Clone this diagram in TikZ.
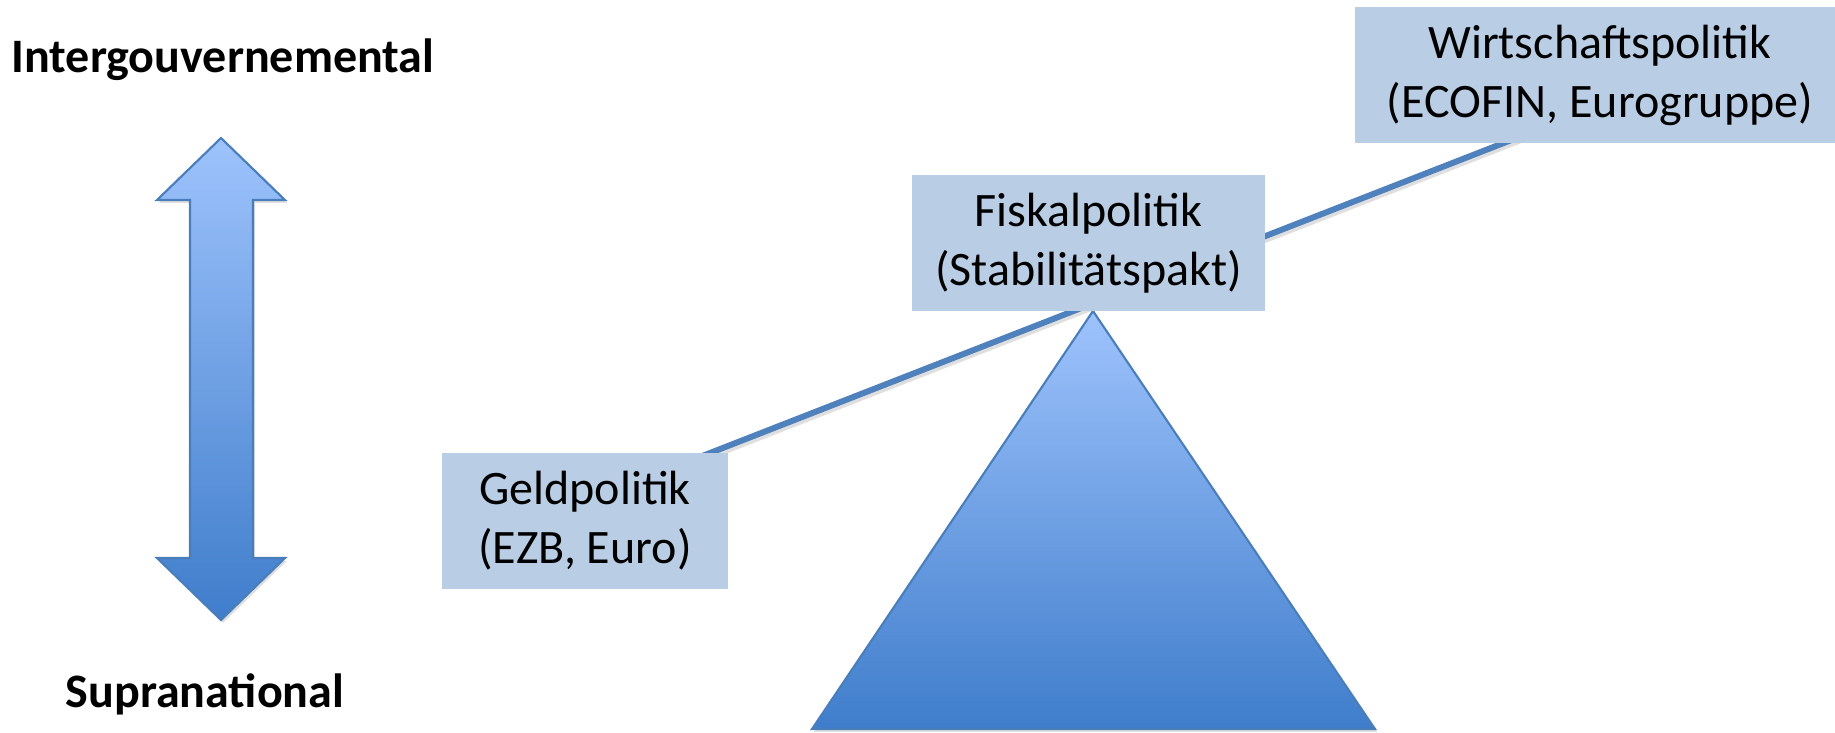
\documentclass[tikz,border=0pt]{standalone}
\usepackage{fontspec}
\setmainfont{Carlito}
\usepackage{tikz}
\usetikzlibrary{calc,shadows}
\definecolor{hellblau}{HTML}{9EC3FC}
\definecolor{dunkelblau}{HTML}{3F7DCB}
\definecolor{randblau}{HTML}{4A7EBB}
\definecolor{balkenblau}{HTML}{4F81BD}
\definecolor{kastenblau}{HTML}{B9CDE5}

\begin{document}
\begin{tikzpicture}[x=0.01cm,y=-0.01cm,
    schatten/.style={drop shadow={opacity=0.25,shadow xshift=0.6pt,shadow yshift=-0.8pt}},
    form/.style={draw=randblau,line width=0.6pt,line join=miter,top color=hellblau,bottom color=dunkelblau,schatten},
    balken/.style={draw=balkenblau,line width=1.7pt},
    kasten/.style={fill=kastenblau,inner sep=0pt,minimum height=1.36cm,align=center,font=\fontsize{13.66}{16.8}\selectfont},
    titel/.style={anchor=base,font=\fontsize{13.66}{16.8}\selectfont\bfseries}]
    \useasboundingbox (0,0) rectangle (1835,732);
    \draw[form] (221,138) -- (285,200) -- (253,200) -- (253,558) -- (285,558) -- (221,620) -- (157,558) -- (190,558) -- (190,200) -- (157,200) -- cycle;
    \draw[form] (1093,311) -- (812,729) -- (1375,729) -- cycle;
    \coordinate (beamL) at (660,472.5);
    \coordinate (beamR) at (1560,121);
    \draw[balken,draw=black!25,opacity=0.5] ($(beamL)+(2,3)$) -- ($(beamR)+(2,3)$);
    \draw[balken] (beamL) -- (beamR);
    \node[kasten,minimum width=2.86cm] (geld) at (585,521) {Geldpolitik\\(EZB, Euro)};
    \node[kasten,minimum width=3.53cm] (fiskal) at (1088.5,243) {Fiskalpolitik\\(Stabilitätspakt)};
    \node[kasten,minimum width=4.9cm] (wirt) at (1600,75) {Wirtschaftspolitik\\(ECOFIN, Eurogruppe)};
    \node[titel] (inter) at (223,72) {Intergouvernemental};
    \node[titel] (supra) at (205,707) {Supranational};
\end{tikzpicture}
\end{document}
